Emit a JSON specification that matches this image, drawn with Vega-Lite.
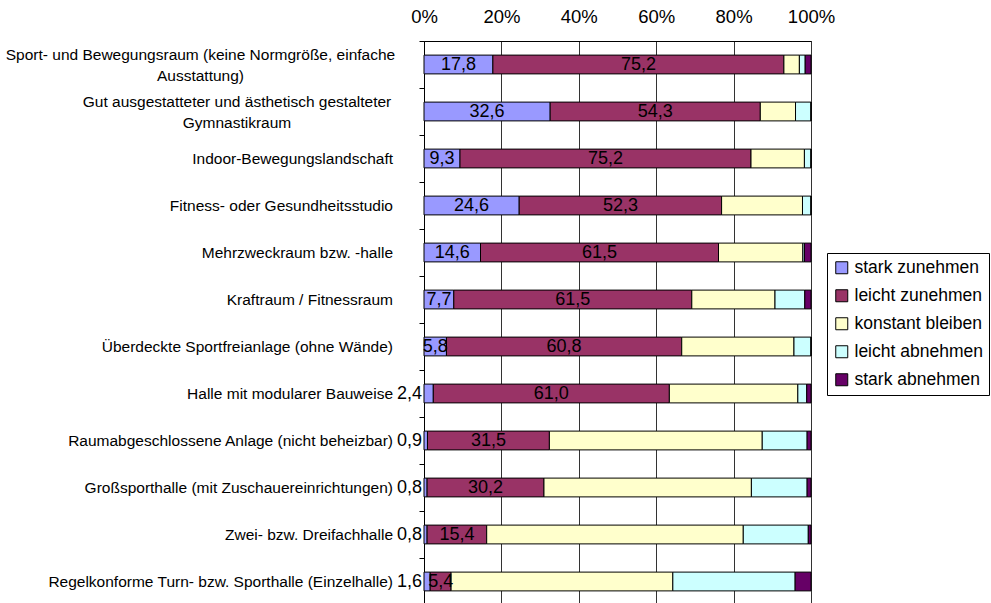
{
  "$schema": "https://vega.github.io/schema/vega-lite/v6.json",
  "width": 387,
  "height": 564,
  "autosize": "none",
  "padding": {"left": 424, "top": 41, "right": 180, "bottom": 0},
  "background": "white",
  "config": {
    "font": "Liberation Sans",
    "view": {"stroke": "#333", "strokeWidth": 1}
  },
  "data": {
    "values": [
      {"category": "Sport- und Bewegungsraum (keine Normgröße, einfache Ausstattung)", "response": "stark zunehmen", "value": 17.8},
      {"category": "Sport- und Bewegungsraum (keine Normgröße, einfache Ausstattung)", "response": "leicht zunehmen", "value": 75.2},
      {"category": "Sport- und Bewegungsraum (keine Normgröße, einfache Ausstattung)", "response": "konstant bleiben", "value": 4.0},
      {"category": "Sport- und Bewegungsraum (keine Normgröße, einfache Ausstattung)", "response": "leicht abnehmen", "value": 1.5},
      {"category": "Sport- und Bewegungsraum (keine Normgröße, einfache Ausstattung)", "response": "stark abnehmen", "value": 1.5},
      {"category": "Gut ausgestatteter und ästhetisch gestalteter Gymnastikraum", "response": "stark zunehmen", "value": 32.6},
      {"category": "Gut ausgestatteter und ästhetisch gestalteter Gymnastikraum", "response": "leicht zunehmen", "value": 54.3},
      {"category": "Gut ausgestatteter und ästhetisch gestalteter Gymnastikraum", "response": "konstant bleiben", "value": 9.1},
      {"category": "Gut ausgestatteter und ästhetisch gestalteter Gymnastikraum", "response": "leicht abnehmen", "value": 4.0},
      {"category": "Gut ausgestatteter und ästhetisch gestalteter Gymnastikraum", "response": "stark abnehmen", "value": 0},
      {"category": "Indoor-Bewegungslandschaft", "response": "stark zunehmen", "value": 9.3},
      {"category": "Indoor-Bewegungslandschaft", "response": "leicht zunehmen", "value": 75.2},
      {"category": "Indoor-Bewegungslandschaft", "response": "konstant bleiben", "value": 13.8},
      {"category": "Indoor-Bewegungslandschaft", "response": "leicht abnehmen", "value": 1.7},
      {"category": "Indoor-Bewegungslandschaft", "response": "stark abnehmen", "value": 0},
      {"category": "Fitness- oder Gesundheitsstudio", "response": "stark zunehmen", "value": 24.6},
      {"category": "Fitness- oder Gesundheitsstudio", "response": "leicht zunehmen", "value": 52.3},
      {"category": "Fitness- oder Gesundheitsstudio", "response": "konstant bleiben", "value": 20.9},
      {"category": "Fitness- oder Gesundheitsstudio", "response": "leicht abnehmen", "value": 2.2},
      {"category": "Fitness- oder Gesundheitsstudio", "response": "stark abnehmen", "value": 0},
      {"category": "Mehrzweckraum bzw. -halle", "response": "stark zunehmen", "value": 14.6},
      {"category": "Mehrzweckraum bzw. -halle", "response": "leicht zunehmen", "value": 61.5},
      {"category": "Mehrzweckraum bzw. -halle", "response": "konstant bleiben", "value": 21.8},
      {"category": "Mehrzweckraum bzw. -halle", "response": "leicht abnehmen", "value": 0.4},
      {"category": "Mehrzweckraum bzw. -halle", "response": "stark abnehmen", "value": 1.7},
      {"category": "Kraftraum / Fitnessraum", "response": "stark zunehmen", "value": 7.7},
      {"category": "Kraftraum / Fitnessraum", "response": "leicht zunehmen", "value": 61.5},
      {"category": "Kraftraum / Fitnessraum", "response": "konstant bleiben", "value": 21.5},
      {"category": "Kraftraum / Fitnessraum", "response": "leicht abnehmen", "value": 7.7},
      {"category": "Kraftraum / Fitnessraum", "response": "stark abnehmen", "value": 1.6},
      {"category": "Überdeckte Sportfreianlage (ohne Wände)", "response": "stark zunehmen", "value": 5.8},
      {"category": "Überdeckte Sportfreianlage (ohne Wände)", "response": "leicht zunehmen", "value": 60.8},
      {"category": "Überdeckte Sportfreianlage (ohne Wände)", "response": "konstant bleiben", "value": 29.0},
      {"category": "Überdeckte Sportfreianlage (ohne Wände)", "response": "leicht abnehmen", "value": 4.4},
      {"category": "Überdeckte Sportfreianlage (ohne Wände)", "response": "stark abnehmen", "value": 0},
      {"category": "Halle mit modularer Bauweise", "response": "stark zunehmen", "value": 2.4},
      {"category": "Halle mit modularer Bauweise", "response": "leicht zunehmen", "value": 61.0},
      {"category": "Halle mit modularer Bauweise", "response": "konstant bleiben", "value": 33.2},
      {"category": "Halle mit modularer Bauweise", "response": "leicht abnehmen", "value": 2.3},
      {"category": "Halle mit modularer Bauweise", "response": "stark abnehmen", "value": 1.1},
      {"category": "Raumabgeschlossene Anlage (nicht beheizbar)", "response": "stark zunehmen", "value": 0.9},
      {"category": "Raumabgeschlossene Anlage (nicht beheizbar)", "response": "leicht zunehmen", "value": 31.5},
      {"category": "Raumabgeschlossene Anlage (nicht beheizbar)", "response": "konstant bleiben", "value": 55.0},
      {"category": "Raumabgeschlossene Anlage (nicht beheizbar)", "response": "leicht abnehmen", "value": 11.6},
      {"category": "Raumabgeschlossene Anlage (nicht beheizbar)", "response": "stark abnehmen", "value": 1.0},
      {"category": "Großsporthalle (mit Zuschauereinrichtungen)", "response": "stark zunehmen", "value": 0.8},
      {"category": "Großsporthalle (mit Zuschauereinrichtungen)", "response": "leicht zunehmen", "value": 30.2},
      {"category": "Großsporthalle (mit Zuschauereinrichtungen)", "response": "konstant bleiben", "value": 53.6},
      {"category": "Großsporthalle (mit Zuschauereinrichtungen)", "response": "leicht abnehmen", "value": 14.4},
      {"category": "Großsporthalle (mit Zuschauereinrichtungen)", "response": "stark abnehmen", "value": 1.0},
      {"category": "Zwei- bzw. Dreifachhalle", "response": "stark zunehmen", "value": 0.8},
      {"category": "Zwei- bzw. Dreifachhalle", "response": "leicht zunehmen", "value": 15.4},
      {"category": "Zwei- bzw. Dreifachhalle", "response": "konstant bleiben", "value": 66.3},
      {"category": "Zwei- bzw. Dreifachhalle", "response": "leicht abnehmen", "value": 16.8},
      {"category": "Zwei- bzw. Dreifachhalle", "response": "stark abnehmen", "value": 0.7},
      {"category": "Regelkonforme Turn- bzw. Sporthalle (Einzelhalle)", "response": "stark zunehmen", "value": 1.6},
      {"category": "Regelkonforme Turn- bzw. Sporthalle (Einzelhalle)", "response": "leicht zunehmen", "value": 5.4},
      {"category": "Regelkonforme Turn- bzw. Sporthalle (Einzelhalle)", "response": "konstant bleiben", "value": 57.3},
      {"category": "Regelkonforme Turn- bzw. Sporthalle (Einzelhalle)", "response": "leicht abnehmen", "value": 31.6},
      {"category": "Regelkonforme Turn- bzw. Sporthalle (Einzelhalle)", "response": "stark abnehmen", "value": 4.1}
    ]
  },
  "transform": [
    {"calculate": "datum.response == 'stark zunehmen' ? 0 : datum.response == 'leicht zunehmen' ? 1 : datum.response == 'konstant bleiben' ? 2 : datum.response == 'leicht abnehmen' ? 3 : 4", "as": "k"},
    {"stack": "value", "groupby": ["category"], "sort": [{"field": "k", "order": "ascending"}], "as": ["v0", "v1"]},
    {"calculate": "(datum.v0 + datum.v1) / 2", "as": "mid"},
    {"calculate": "replace(format(datum.value, '.1f'), '.', ',')", "as": "label"}
  ],
  "encoding": {
    "y": {
      "field": "category",
      "type": "nominal",
      "sort": [
        "Sport- und Bewegungsraum (keine Normgröße, einfache Ausstattung)",
        "Gut ausgestatteter und ästhetisch gestalteter Gymnastikraum",
        "Indoor-Bewegungslandschaft",
        "Fitness- oder Gesundheitsstudio",
        "Mehrzweckraum bzw. -halle",
        "Kraftraum / Fitnessraum",
        "Überdeckte Sportfreianlage (ohne Wände)",
        "Halle mit modularer Bauweise",
        "Raumabgeschlossene Anlage (nicht beheizbar)",
        "Großsporthalle (mit Zuschauereinrichtungen)",
        "Zwei- bzw. Dreifachhalle",
        "Regelkonforme Turn- bzw. Sporthalle (Einzelhalle)"
      ],
      "scale": {"paddingInner": 0.6, "paddingOuter": 0.3},
      "axis": {
        "title": null,
        "orient": "left",
        "domain": true,
        "domainColor": "#000",
        "ticks": true,
        "tickSize": 5,
        "tickColor": "#000",
        "tickWidth": 1,
        "tickOffset": -23.5,
        "labelOffset": {"condition": {"test": "indexof(datum.value, 'Sport- und') == 0 || indexof(datum.value, 'Gut ausgestatteter') == 0", "value": 13}, "value": 23.5},
        "grid": false,
        "labelFont": "Liberation Sans",
        "labelFontSize": 15.5,
        "labelColor": "#000",
        "labelLimit": 600,
        "labelLineHeight": 21,
        "labelBaseline": "middle",
        "labelExpr": "indexof(datum.label, 'Sport- und') == 0 ? ['Sport- und Bewegungsraum (keine Normgröße, einfache', 'Ausstattung)'] : indexof(datum.label, 'Gut ausgestatteter') == 0 ? ['Gut ausgestatteter und ästhetisch gestalteter', 'Gymnastikraum'] : datum.label",
        "labelAlign": {"condition": {"test": "indexof(datum.value, 'Sport- und') == 0 || indexof(datum.value, 'Gut ausgestatteter') == 0", "value": "center"}, "value": "right"},
        "labelPadding": {"condition": [
          {"test": "indexof(datum.value, 'Sport- und') == 0", "value": 219},
          {"test": "indexof(datum.value, 'Gut ausgestatteter') == 0", "value": 182.5}
        ], "value": 26.5}
      }
    }
  },
  "layer": [
    {
      "mark": {"type": "bar", "stroke": "#000", "strokeWidth": 1},
      "encoding": {
        "x": {
          "field": "v0",
          "type": "quantitative",
          "scale": {"domain": [0, 100], "nice": false},
          "axis": {
            "title": null,
            "orient": "top",
            "values": [0, 20, 40, 60, 80, 100],
            "labelExpr": "datum.value + '%'",
            "grid": true,
            "gridColor": "#333333",
            "gridWidth": 1,
            "ticks": false,
            "tickSize": 0,
            "domain": true,
            "domainColor": "#000",
            "labelFont": "Liberation Sans",
            "labelFontSize": 18.5,
            "labelColor": "#000",
            "labelPadding": 19,
            "labelBaseline": "alphabetic",
            "labelFlush": false
          }
        },
        "x2": {"field": "v1"},
        "color": {
          "field": "response",
          "type": "nominal",
          "scale": {
            "domain": ["stark zunehmen", "leicht zunehmen", "konstant bleiben", "leicht abnehmen", "stark abnehmen"],
            "range": ["#9999FF", "#993366", "#FFFFCC", "#CCFFFF", "#660066"]
          },
          "legend": {
            "orient": "none",
            "legendX": 403,
            "legendY": 212,
            "title": null,
            "strokeColor": "#000",
            "fillColor": "#fff",
            "padding": 6,
            "symbolType": "square",
            "symbolSize": 144,
            "symbolStrokeColor": "#000",
            "symbolStrokeWidth": 1,
            "symbolOpacity": 1,
            "labelFont": "Liberation Sans",
            "labelFontSize": 17.5,
            "labelColor": "#000",
            "labelOffset": 4,
            "labelLimit": 300,
            "rowPadding": 9
          }
        }
      }
    },
    {
      "transform": [{"filter": "datum.k <= 1 && datum.value >= 3"}],
      "mark": {"type": "text", "fontSize": 18, "font": "Liberation Sans", "baseline": "middle", "align": "center", "color": "#000"},
      "encoding": {
        "x": {"field": "mid", "type": "quantitative"},
        "text": {"field": "label", "type": "nominal"}
      }
    },
    {
      "transform": [{"filter": "datum.k == 0 && datum.value < 3"}],
      "mark": {"type": "text", "fontSize": 18, "font": "Liberation Sans", "baseline": "middle", "align": "right", "dx": -2, "color": "#000"},
      "encoding": {
        "x": {"datum": 0, "type": "quantitative"},
        "text": {"field": "label", "type": "nominal"}
      }
    }
  ]
}
